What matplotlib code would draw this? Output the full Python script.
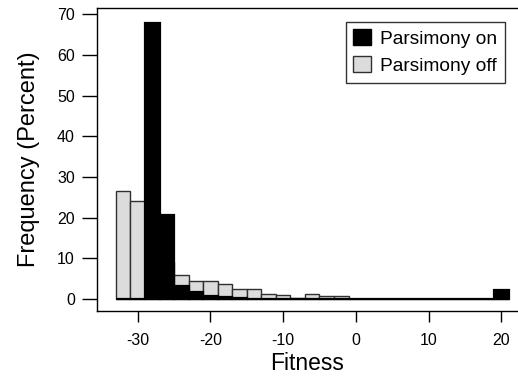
import numpy as np
import matplotlib
matplotlib.use("Agg")
import matplotlib.pyplot as plt
from matplotlib.patches import Patch

plt.rcParams['font.family'] = ['Liberation Sans', 'DejaVu Sans']
plt.rcParams['axes.unicode_minus'] = False

# histogram bins (width 2), from -33 to 21
bin_edges = np.arange(-33, 22, 2)
bin_left = bin_edges[:-1]

# frequency in percent
parsimony_off = [26.5, 24.0, 12.0, 9.0, 5.8, 4.5, 4.5, 3.7, 2.4, 2.4, 1.2, 0.9, 0.3, 1.2,
                 0.7, 0.7, 0, 0, 0, 0, 0, 0, 0, 0, 0, 0, 0]
parsimony_on = [0, 0, 67.9, 20.7, 3.3, 1.7, 0.7, 0.4, 0.2, 0.1, 0, 0, 0, 0,
                0, 0, 0, 0, 0, 0, 0, 0, 0, 0, 0, 0, 2.2]

x_ticks = [-30, -20, -10, 0, 10, 20]
y_ticks = [0, 10, 20, 30, 40, 50, 60, 70]

fig = plt.figure(figsize=(5.18, 3.77), dpi=100)
ax = fig.add_axes([97 / 518, 66 / 377, 421 / 518, 303 / 377])

ax.bar(bin_left, parsimony_off, width=2, align='edge', color='#dcdcdc',
       edgecolor='#303030', linewidth=1.0, zorder=2)
ax.bar(bin_left, parsimony_on, width=2, align='edge', color='black',
       edgecolor='black', linewidth=1.6, zorder=3)

ax.set_xlim(-35.6, 22.3)
ax.set_ylim(-2.95, 71.5)
ax.set_xticks(x_ticks)
ax.set_yticks(y_ticks)
ax.tick_params(axis='y', length=11, width=1, labelsize=11.5, pad=5)
ax.tick_params(axis='x', length=8, width=1, labelsize=11.5, pad=8)
ax.spines['right'].set_visible(False)
for s in ['left', 'top', 'bottom']:
    ax.spines[s].set_linewidth(1.0)

ax.set_xlabel('Fitness', fontsize=16.5, labelpad=3)
ax.set_ylabel('Frequency (Percent)', fontsize=17, labelpad=12)

handles = [Patch(facecolor='black', edgecolor='black', label='Parsimony on'),
           Patch(facecolor='#dcdcdc', edgecolor='#303030', label='Parsimony off')]
leg = ax.legend(handles=handles, loc='upper right', bbox_to_anchor=(0.969, 0.955),
                fontsize=13.8, frameon=True, fancybox=False, edgecolor='black',
                handlelength=0.9, handleheight=0.9, handletextpad=0.5,
                borderpad=0.4, labelspacing=0.45, borderaxespad=0)
leg.get_frame().set_linewidth(1.0)

fig.savefig('out.png', dpi=100)
